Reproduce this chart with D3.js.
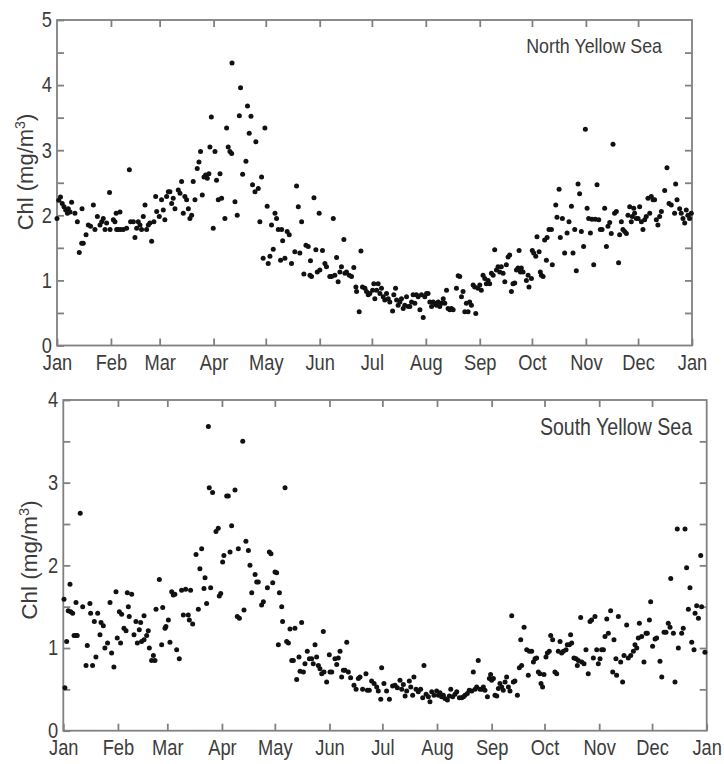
<!DOCTYPE html>
<html>
<head>
<meta charset="utf-8">
<script src="https://cdn.jsdelivr.net/npm/d3@7"></script>
<style>
  body { margin: 0; background: #fff; }
  svg text { font-family: Arial, "Liberation Sans", sans-serif; fill: #3c3c3c; }
</style>
</head>
<body>
<svg id="chart" width="724" height="764"></svg>
<script>
// month ticks (day of year)
var monthLabels = ["Jan", "Feb", "Mar", "Apr", "May", "Jun", "Jul", "Aug", "Sep", "Oct", "Nov", "Dec", "Jan"];
var monthStarts = [0, 31, 59, 90, 120, 151, 181, 212, 243, 273, 304, 334, 365];

// [day of year, Chl mg/m3]
var northPoints = [
  [0,1.95],[1,2.23],[2,2.28],[3,2.18],[4,2.13],[5,2.08],[6,2.03],[6.5,2.1],[7.5,2.05],[8.4,2.2],
  [10.3,2.03],[11.7,1.9],[12.8,1.43],[14.2,1.57],[14.4,2.1],[15.1,1.57],[16.7,1.7],[18,1.85],[19.3,1.83],[20.9,2.16],
  [21.8,1.78],[23.2,1.98],[24.7,1.85],[25.7,1.9],[26.6,1.95],[27.6,1.78],[28.5,1.88],[30.5,1.78],[30.2,2.35],[32.4,1.93],
  [33.3,1.9],[34.3,1.78],[35.2,1.78],[34,2.03],[36.2,2.05],[36.6,1.78],[38.1,1.78],[40,1.8],[41.6,2.7],[42.3,1.9],
  [43.9,1.9],[44.8,1.66],[45.8,1.8],[46.7,1.9],[47.7,1.85],[48.6,1.78],[49.6,1.98],[50.6,2.16],[51.5,1.78],[52.5,1.85],
  [53.4,1.88],[54.4,1.6],[55.7,1.9],[56.7,2.29],[57.3,2.06],[58.8,1.98],[60.1,2.24],[61.1,2.08],[62,1.93],[63,2.29],
  [64,2.36],[64.9,2.36],[65.9,2.18],[66.8,2.26],[67.8,2.1],[69.7,2.39],[70.7,2.34],[71.6,2.52],[72.6,2.03],[73.5,2.29],
  [74.5,2.24],[75.5,2.1],[76.4,1.95],[77.4,2.0],[78.3,2.52],[79.3,2.24],[80.6,2.72],[81.6,2.82],[82.5,2.98],[83.5,2.31],
  [84.5,2.59],[85.4,2.62],[86.4,2.57],[87.3,2.64],[87.9,3.05],[88.7,3.51],[89.8,1.8],[90.8,2.98],[91.7,2.54],[92.7,2.24],
  [93.7,2.64],[94.6,2.26],[96.5,1.95],[97.5,3.34],[98.4,3.05],[99.4,2.98],[100.4,2.95],[100.6,4.34],[102.3,2.21],[103.6,2.0],
  [104.8,3.53],[105.5,3.96],[106.7,2.63],[108.6,2.83],[109.5,3.68],[110.5,3.26],[111.5,3.52],[112.4,2.47],[113.8,2.36],[114.3,3.13],
  [115.7,2.41],[116.6,1.9],[117.6,2.59],[118.5,1.34],[119.5,3.34],[120.8,2.14],[121.4,1.26],[122.4,1.37],[123.3,1.85],[124.3,1.48],
  [125.3,2.03],[126.2,1.95],[127.2,1.78],[128.5,1.31],[129.1,1.78],[129.7,1.61],[131,1.34],[132.3,1.75],[133.5,1.7],[134.8,1.26],
  [136.7,1.44],[137.7,2.45],[138.7,2.13],[139.6,1.42],[140.6,1.9],[141.9,1.1],[143.1,1.54],[144.4,1.52],[145.4,1.08],[145.7,1.3],
  [146.3,1.06],[147.7,2.27],[148.8,1.47],[149.6,1.13],[150.7,2.03],[151.1,1.16],[152.6,1.46],[154,1.26],[154.9,1.21],[156.8,1.06],
  [157.8,1.06],[158.8,1.95],[159.7,1.08],[160.7,1.35],[161.6,0.98],[162.6,1.13],[163.5,1.21],[164.9,1.63],[165.5,1.11],[166.4,1.13],
  [168,1.08],[169.3,1.06],[170.6,1.2],[171.8,0.9],[172.2,0.83],[173.7,0.52],[174.7,1.45],[175.6,0.9],[177,0.88],[177.9,0.83],
  [178.9,0.78],[179.8,0.8],[181.4,0.85],[182.1,0.95],[182.7,0.72],[183.7,0.85],[184.6,0.95],[185.6,0.8],[186.5,0.88],[187.5,0.75],
  [188.4,0.7],[189.4,0.8],[190.4,0.72],[191.3,0.67],[192.9,0.53],[193.6,0.78],[194.6,0.88],[195.2,0.7],[196.1,0.62],[197.1,0.67],
  [198,0.72],[199,0.57],[199.9,0.62],[200.9,0.75],[201.9,0.6],[202.8,0.6],[203.8,0.67],[204.7,0.78],[205.7,0.65],[206.6,0.78],
  [207.6,0.75],[208.6,0.55],[209.5,0.78],[210.5,0.43],[211.4,0.75],[212.4,0.8],[213.3,0.8],[214.3,0.67],[215.3,0.6],[216.2,0.67],
  [217.2,0.65],[218.1,0.62],[219.1,0.67],[220,0.6],[221,0.65],[222,0.72],[222.9,0.65],[223.9,0.85],[224.8,0.57],[225.8,0.55],
  [226.7,0.57],[227.7,0.55],[229.6,0.88],[230.6,1.07],[231.5,1.06],[232.5,0.75],[233.4,0.83],[234.4,0.52],[235.3,0.65],[236.3,0.52],
  [237.2,0.67],[238.2,0.62],[239.2,0.93],[240.1,0.9],[240.7,0.49],[242,0.88],[243,0.93],[243.9,0.85],[244.9,1.08],[245.9,1.03],
  [246.8,0.95],[247.8,1.0],[248.7,0.95],[249.7,1.11],[250.7,1.08],[251.6,1.47],[252.6,1.16],[253.5,1.21],[254.5,1.13],[255.4,1.21],
  [256.4,1.11],[257.4,0.98],[258.3,1.24],[259.3,1.36],[260.2,1.39],[261.2,0.83],[262.1,0.95],[263.1,0.96],[264.1,1.16],[265,1.19],
  [265.6,1.46],[266.4,1.13],[266.9,1.19],[267.9,1.13],[269.8,1.0],[270.8,1.08],[271.3,0.9],[272.7,1.03],[273.2,1.46],[274,1.42],
  [275.2,1.37],[275.9,1.67],[277.1,1.44],[277.8,1.13],[278.4,1.08],[279.4,1.06],[280.3,1.62],[281.3,1.31],[281.7,1.66],[282.8,1.78],
  [284.2,1.78],[284.7,1.24],[286.7,2.16],[287.4,1.97],[288.6,2.4],[289.3,1.66],[290.5,1.95],[291.8,1.42],[293.2,1.73],[294.3,1.9],
  [295.7,2.14],[296.6,1.42],[297.6,1.78],[298.5,1.15],[299.5,2.48],[300.4,2.33],[301.4,1.75],[302.7,1.52],[303.7,3.32],[304.7,2.11],
  [305.6,1.95],[306.6,1.73],[307.5,1.94],[308.5,1.24],[309.4,1.94],[310.4,2.47],[311.4,1.93],[312.3,1.78],[313.3,1.78],[314.8,2.11],
  [315.8,1.52],[316.7,1.83],[317.7,1.89],[318.6,1.72],[319.6,3.09],[320.5,2.03],[321.5,2.06],[322.8,1.27],[323.4,1.7],[324.4,1.9],
  [325.3,1.78],[326.3,1.75],[327.3,1.72],[328.2,2.0],[329.2,2.13],[330.1,1.9],[330.7,1.98],[331.5,2.11],[332,2.03],[333,1.95],
  [334,1.95],[334.9,2.13],[335.9,1.9],[336.8,1.78],[337.8,1.93],[338.7,1.98],[339.7,2.26],[340.7,2.03],[341.6,2.29],[342.6,2.24],
  [343.5,2.24],[344.5,1.93],[345.4,1.85],[346.4,1.98],[347.4,2.06],[349.3,2.38],[350.6,2.73],[351.8,2.18],[353.1,2.16],[355,2.03],
  [355.6,2.48],[356.4,2.24],[357.9,2.1],[358.8,2.03],[359.8,1.95],[360.8,1.88],[361.7,2.08],[362.7,2.0],[363.6,1.95],[364.6,2.03]
];

var southPoints = [
  [0.4,1.59],[0.9,0.52],[1.9,1.08],[2.8,1.45],[3.8,1.77],[4.2,1.44],[5.3,1.42],[6.1,1.15],[7.2,1.15],[7.9,1.15],
  [7.2,1.55],[9.6,2.63],[11,1.5],[12.9,0.79],[13.6,1.03],[15.1,1.54],[15.5,1.42],[16.6,0.79],[17.6,1.32],[18.5,0.89],
  [19.5,1.42],[20.8,1.16],[21.4,1.31],[22.7,1.27],[23.6,1.0],[25.1,1.06],[26.5,1.55],[27.4,0.94],[28.7,0.77],[29.9,1.68],
  [30.6,1.12],[31.8,1.44],[32.5,1.06],[33.1,1.41],[34.4,1.24],[35.6,1.21],[36.3,1.67],[36.9,1.5],[37.4,1.38],[38.8,1.65],
  [40.1,1.16],[41.2,1.32],[42,1.06],[43.1,1.22],[43.9,1.31],[44.4,1.08],[45.8,1.1],[45.8,1.39],[47.3,1.15],[48.2,1.21],
  [48.8,1.0],[50.1,0.85],[51.1,0.91],[52,0.85],[52.6,1.47],[54.5,1.83],[55.8,1.04],[56.4,1.49],[57.7,1.24],[58.2,1.26],
  [59.6,1.34],[60.5,1.07],[61.5,1.68],[62.4,1.64],[63.3,1.65],[64.3,0.98],[65.8,0.87],[67.1,1.7],[68.1,1.4],[69.4,1.71],
  [70.9,1.4],[71.5,1.34],[72.2,1.7],[73.4,1.29],[75.3,2.13],[76.6,1.47],[77.5,1.96],[78.5,2.2],[79.8,1.72],[80.4,1.85],
  [81.3,1.54],[82.3,3.68],[82.8,2.94],[83.6,1.73],[84.7,2.88],[86.6,2.41],[87.9,2.45],[88.5,1.63],[89.3,1.66],[90.4,2.04],
  [91.1,2.12],[92.7,2.84],[93.6,2.84],[94.6,2.16],[95.5,2.48],[97.4,2.91],[98.7,1.38],[99.3,2.2],[99.9,1.36],[101.8,3.5],
  [102.5,1.46],[103.6,2.29],[105,2.18],[105.9,2.0],[106.9,1.67],[108.8,1.89],[109.7,1.8],[110.6,1.8],[112.5,1.52],[113.5,1.56],
  [115.8,1.73],[116.9,2.16],[117.8,2.14],[118.8,1.79],[120.1,1.92],[121,1.91],[122,1.04],[122.6,1.67],[123.9,1.5],[124.4,1.32],
  [125.8,2.94],[126.7,1.08],[127.7,1.06],[128.6,1.23],[129.6,0.85],[130.5,0.85],[131.4,1.24],[132.4,0.62],[133.7,0.89],[134.3,0.72],
  [135.2,1.31],[136.2,0.71],[137.1,0.81],[138.4,0.96],[139.6,0.87],[140.9,0.87],[141.8,0.81],[142.8,1.04],[143.7,0.89],[144.7,0.79],
  [145.6,0.75],[146.6,0.69],[147.5,1.2],[147.9,0.71],[149.4,0.59],[150.9,0.92],[151.3,0.71],[152.3,0.71],[154.1,0.87],[155.1,0.8],
  [156,0.88],[157,0.96],[157.9,0.65],[158.9,0.73],[159.8,0.73],[160.8,1.07],[161.7,0.71],[163,0.64],[164.9,0.55],[166.1,0.5],
  [167.4,0.63],[168.3,0.65],[169.8,0.5],[171.7,0.69],[172.5,0.49],[173.6,0.49],[174.9,0.6],[176.3,0.57],[177.8,0.53],[178.7,0.48],
  [180.1,0.38],[180.6,0.76],[181.9,0.57],[183.4,0.48],[185,0.38],[186.8,0.54],[188.2,0.55],[189.5,0.52],[191,0.61],[192,0.5],
  [192.9,0.56],[193.9,0.42],[194.8,0.48],[196.3,0.6],[197.1,0.53],[198.2,0.43],[198.9,0.65],[200.1,0.5],[201.4,0.47],[202.7,0.5],
  [203.9,0.4],[204.6,0.79],[205.8,0.44],[207.1,0.41],[208,0.35],[209,0.47],[210.3,0.43],[211.8,0.48],[212.8,0.43],[213.7,0.46],
  [214.6,0.41],[215.6,0.43],[216.5,0.39],[217.9,0.37],[219,0.42],[219.8,0.5],[220.9,0.41],[222.2,0.44],[223.2,0.47],[224.7,0.4],
  [226,0.4],[227,0.41],[227.9,0.43],[229.2,0.45],[230.3,0.49],[231.7,0.48],[232.6,0.71],[233.6,0.5],[234.5,0.53],[235.4,0.85],
  [236.4,0.5],[237.3,0.5],[238.3,0.53],[239.2,0.49],[240.6,0.41],[241.7,0.63],[242.4,0.68],[243,0.61],[244,0.63],[244.9,0.43],
  [245.9,0.42],[246.8,0.51],[247.7,0.57],[248.7,0.53],[249.6,0.49],[250.6,0.59],[251.5,0.65],[252.5,0.53],[253.4,0.48],[254.4,1.39],
  [255.3,0.59],[256.2,0.6],[257.6,0.43],[258.7,0.76],[260,0.79],[259.5,1.1],[261.4,1.25],[262.9,0.98],[263.8,0.67],[264.4,0.96],
  [265.7,0.96],[266.7,0.83],[267.6,0.87],[268.5,0.88],[269.5,0.71],[270.4,0.69],[271,0.57],[271.9,0.53],[272.7,0.68],[273.8,0.89],
  [274.6,0.94],[275.7,0.96],[276.5,1.15],[277.6,1.1],[278.9,0.71],[279.9,0.69],[280.8,0.96],[281.8,1.08],[282.7,0.94],[283.7,0.96],
  [285.2,0.98],[285.9,1.04],[287.1,1.04],[287.8,1.16],[288.4,1.06],[289.7,0.88],[290.9,0.87],[291.6,0.79],[292.2,0.85],[293.5,1.37],
  [294.1,0.83],[295.4,0.81],[296.5,0.98],[297.8,0.69],[298.8,1.32],[299.7,1.34],[300.7,0.88],[301.6,1.38],[302.6,0.98],[303.5,0.81],
  [304.5,0.87],[305.4,0.98],[306.4,0.98],[307.3,1.14],[308.3,1.35],[309.2,1.18],[310.5,1.45],[311.7,0.71],[312.4,1.1],[313.5,0.87],
  [313.9,0.67],[314.9,1.38],[316.2,0.83],[317.3,0.59],[318.1,0.91],[319.6,1.28],[320.5,0.88],[321.9,0.91],[323.4,0.96],[324.3,1.04],
  [325.3,1.0],[326.2,1.12],[326.8,1.3],[328.1,1.14],[329.4,0.83],[330.6,1.18],[331.3,1.18],[332.5,1.34],[333.2,1.56],[334.3,1.02],
  [335.7,1.11],[336.6,1.12],[338.5,0.84],[339.5,0.65],[340.8,1.19],[341.9,1.19],[343.2,1.3],[344.2,1.25],[344.6,1.84],[346.1,1.18],
  [347,0.59],[348.3,2.44],[348.9,1.0],[350.8,1.18],[351.7,1.24],[352.7,2.44],[353.6,1.97],[354.6,1.47],[355.5,1.73],[356.5,1.07],
  [357.8,0.98],[358.4,1.42],[359.3,1.51],[360.3,1.36],[361.6,2.12],[362.1,1.5],[364,0.95]
];

// panel frames (pixel boxes) and text sizes
var panels = [
  { title: "North Yellow Sea", points: northPoints, yMax: 5,
    left: 57, right: 692, top: 20, bottom: 345.5,
    tickFont: 21.5, titleFont: 21, labelFont: 22, titleX: 662, titleY: 53, labelX: 33, labelY: 172 },
  { title: "South Yellow Sea", points: southPoints, yMax: 4,
    left: 63.3, right: 706.7, top: 400, bottom: 730.7,
    tickFont: 21.5, titleFont: 23, labelFont: 22.5, titleX: 692, titleY: 435, labelX: 37, labelY: 560 }
];

var narrow = "scale(0.85,1)";   // the figure's lettering is horizontally squeezed
var svg = d3.select("#chart");
var axisColor = "#808080";

panels.forEach(function (p) {
  var x = d3.scaleLinear().domain([0, 365]).range([p.left, p.right]);
  var y = d3.scaleLinear().domain([0, p.yMax]).range([p.bottom, p.top]);
  var yTicks = d3.range(0, p.yMax + 0.001, 0.5);

  var g = svg.append("g");

  // frame
  g.append("rect")
    .attr("x", p.left).attr("y", p.top)
    .attr("width", p.right - p.left).attr("height", p.bottom - p.top)
    .attr("fill", "none").attr("stroke", axisColor).attr("stroke-width", 1.8);

  var bottomAxis = d3.axisBottom(x)
    .tickValues(monthStarts)
    .tickFormat(function (d, i) { return monthLabels[i]; })
    .tickSizeInner(-7).tickSizeOuter(0).tickPadding(9);
  var topAxis = d3.axisTop(x)
    .tickValues(monthStarts.slice(1, -1))
    .tickFormat("")
    .tickSizeInner(-7).tickSizeOuter(0);
  var leftAxis = d3.axisLeft(y)
    .tickValues(yTicks)
    .tickFormat(function (d) { return Number.isInteger(d) ? d : ""; })
    .tickSizeInner(-7).tickSizeOuter(0).tickPadding(6);
  var rightAxis = d3.axisRight(y)
    .tickValues(yTicks.slice(1, -1))
    .tickFormat("")
    .tickSizeInner(-7).tickSizeOuter(0);

  var axes = [
    g.append("g").attr("transform", "translate(0," + p.bottom + ")").call(bottomAxis),
    g.append("g").attr("transform", "translate(0," + p.top + ")").call(topAxis),
    g.append("g").attr("transform", "translate(" + p.left + ",0)").call(leftAxis),
    g.append("g").attr("transform", "translate(" + p.right + ",0)").call(rightAxis)
  ];
  axes.forEach(function (a) {
    a.select(".domain").remove();
    a.selectAll("line").attr("stroke", axisColor).attr("stroke-width", 1.8);
    a.selectAll("text").attr("fill", "#3c3c3c")
      .attr("transform", narrow)
      .style("font-size", p.tickFont + "px")
      .style("font-family", "Arial, 'Liberation Sans', sans-serif");
  });

  // dots
  g.append("g").selectAll("circle")
    .data(p.points)
    .join("circle")
    .attr("cx", function (d) { return x(d[0]); })
    .attr("cy", function (d) { return y(d[1]); })
    .attr("r", 2.5)
    .attr("fill", "#111");

  // panel title
  g.append("text")
    .attr("transform", "translate(" + p.titleX + "," + p.titleY + ") " + narrow)
    .attr("text-anchor", "end")
    .style("font-size", p.titleFont + "px")
    .text(p.title);

  // y label
  var lab = g.append("text")
    .attr("transform", "translate(" + p.labelX + "," + p.labelY + ") rotate(-90)")
    .attr("text-anchor", "middle")
    .style("font-size", p.labelFont + "px");
  lab.append("tspan").text("Chl (mg/m");
  lab.append("tspan").attr("baseline-shift", "super").style("font-size", (p.labelFont * 0.65) + "px").text("3");
  lab.append("tspan").text(")");
});
</script>
</body>
</html>
